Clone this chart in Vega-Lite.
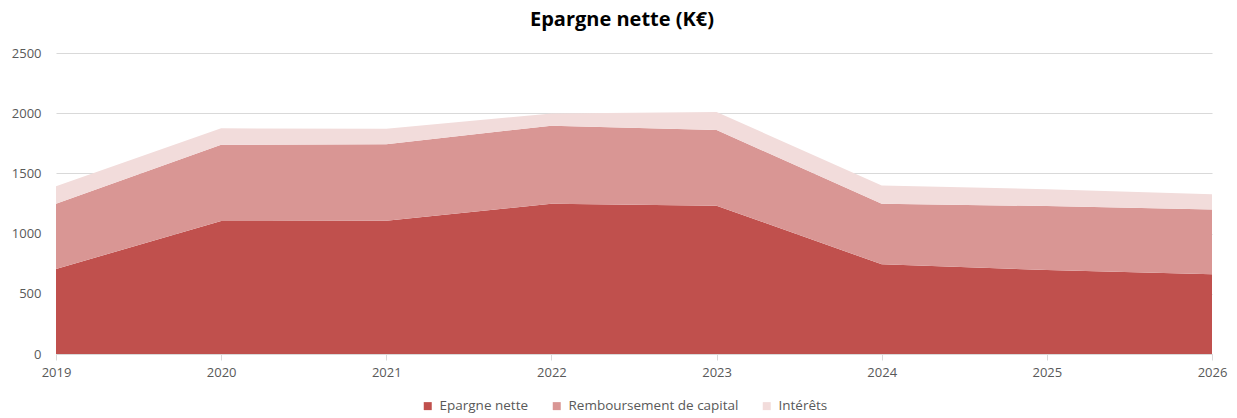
{
  "$schema": "https://vega.github.io/schema/vega-lite/v6.json",
  "autosize": {"type": "none"},
  "padding": {"left": 56, "top": 53, "right": 25, "bottom": 64},
  "width": 1156,
  "height": 301,
  "background": "white",
  "title": {"text": "Epargne nette (K€)", "fontSize": 20, "fontWeight": "bold", "font": "Open Sans", "color": "#000000", "offset": 17, "anchor": "middle", "dx": -12},
  "data": {"values": [
    {"year": "2019", "serie": "Epargne nette", "value": 706},
    {"year": "2019", "serie": "Remboursement de capital", "value": 542},
    {"year": "2019", "serie": "Intérêts", "value": 145},
    {"year": "2020", "serie": "Epargne nette", "value": 1105},
    {"year": "2020", "serie": "Remboursement de capital", "value": 633},
    {"year": "2020", "serie": "Intérêts", "value": 136},
    {"year": "2021", "serie": "Epargne nette", "value": 1107},
    {"year": "2021", "serie": "Remboursement de capital", "value": 635},
    {"year": "2021", "serie": "Intérêts", "value": 128},
    {"year": "2022", "serie": "Epargne nette", "value": 1248},
    {"year": "2022", "serie": "Remboursement de capital", "value": 648},
    {"year": "2022", "serie": "Intérêts", "value": 102},
    {"year": "2023", "serie": "Epargne nette", "value": 1232},
    {"year": "2023", "serie": "Remboursement de capital", "value": 628},
    {"year": "2023", "serie": "Intérêts", "value": 150},
    {"year": "2024", "serie": "Epargne nette", "value": 745},
    {"year": "2024", "serie": "Remboursement de capital", "value": 503},
    {"year": "2024", "serie": "Intérêts", "value": 152},
    {"year": "2025", "serie": "Epargne nette", "value": 698},
    {"year": "2025", "serie": "Remboursement de capital", "value": 531},
    {"year": "2025", "serie": "Intérêts", "value": 139},
    {"year": "2026", "serie": "Epargne nette", "value": 662},
    {"year": "2026", "serie": "Remboursement de capital", "value": 539},
    {"year": "2026", "serie": "Intérêts", "value": 125}
  ]},
  "transform": [
    {"calculate": "indexof(['Epargne nette','Remboursement de capital','Intérêts'], datum.serie)", "as": "ord"}
  ],
  "mark": {"type": "area", "opacity": 1},
  "encoding": {
    "x": {
      "field": "year", "type": "ordinal",
      "scale": {"type": "point", "padding": 0},
      "axis": {"title": null, "labelAngle": 0, "labelFont": "Open Sans", "labelFontSize": 13, "labelColor": "#595959", "domainColor": "#d9d9d9", "tickColor": "#d9d9d9", "tickSize": 6, "labelPadding": 6, "grid": false}
    },
    "y": {
      "field": "value", "type": "quantitative", "stack": "zero",
      "scale": {"domain": [0, 2500]},
      "axis": {"title": null, "values": [0, 500, 1000, 1500, 2000, 2500], "format": "d", "labelFont": "Open Sans", "labelFontSize": 13, "labelColor": "#595959", "domain": false, "ticks": false, "labelPadding": 15, "gridColor": "#d9d9d9", "gridWidth": 1}
    },
    "color": {
      "field": "serie", "type": "nominal",
      "scale": {"domain": ["Epargne nette", "Remboursement de capital", "Intérêts"], "range": ["#C0504D", "#D99694", "#F2DCDB"]},
      "legend": {"title": null, "orient": "none", "direction": "horizontal", "legendX": 365, "legendY": 346, "symbolType": "square", "symbolSize": 64, "symbolStrokeWidth": 0, "labelFont": "Open Sans", "labelFontSize": 13.5, "labelColor": "#595959", "labelLimit": 400, "columnPadding": 21, "labelOffset": 5}
    },
    "order": {"field": "ord", "type": "quantitative", "sort": "ascending"}
  },
  "config": {"view": {"stroke": null}}
}
